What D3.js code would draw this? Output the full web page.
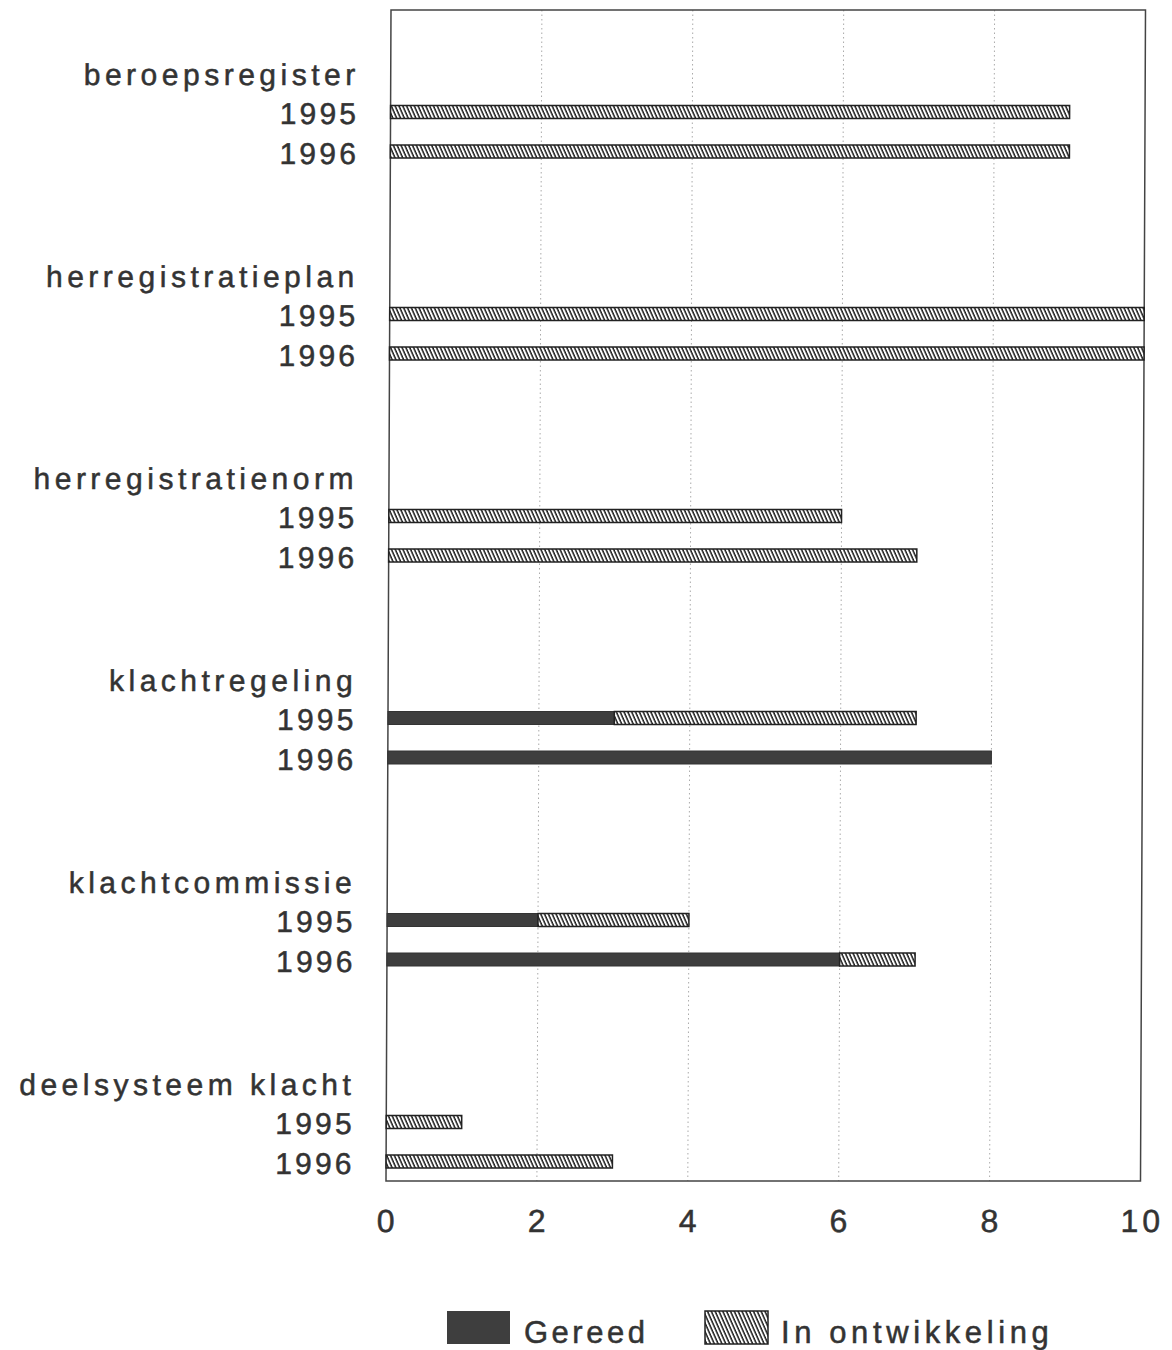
<!DOCTYPE html>
<html><head><meta charset="utf-8">
<script src="https://cdn.jsdelivr.net/npm/d3@7"></script>
<style>body{margin:0;background:#fff}svg{display:block}text{font-family:"Liberation Sans",Arial,sans-serif;fill:#333;stroke:#333;stroke-width:0.5px}</style>
</head><body>
<svg id="c" width="1172" height="1350"></svg>
<script>
const categories = ["beroepsregister","herregistratieplan","herregistratienorm","klachtregeling","klachtcommissie","deelsysteem klacht"];
const years = ["1995","1996"];
const gereed = [[0,0],[0,0],[0,0],[3,8],[2,6],[0,0]];
const inOntwikkeling = [[9,9],[10,10],[6,7],[4,0],[2,1],[1,3]];
const xTicks = [0,2,4,6,8,10];
const seriesNames = ["Gereed","In ontwikkeling"];

const svg = d3.select("#c");
const L = 388.5, R = 1143, T = 10, B = 1181;
const x = d3.scaleLinear().domain([0,10]).range([L,R]);
const yGroup = d3.scalePoint().domain(categories).range([74, 74 + 202*(categories.length-1)]);
const ySub = d3.scalePoint().domain(["label"].concat(years)).range([0, 79]);

const defs = svg.append("defs");
const pat = defs.append("pattern").attr("id","hatch").attr("patternUnits","userSpaceOnUse")
  .attr("width",3.5).attr("height",10).attr("patternTransform","rotate(-24)");
pat.append("rect").attr("width",3.5).attr("height",10).attr("fill","#fff");
pat.append("line").attr("x1",1).attr("y1",0).attr("x2",1).attr("y2",10).attr("stroke","#1a1a1a").attr("stroke-width",1.5);

// scanned image is slightly sheared: apply tiny skew about the vertical centre
const k = -5/1171;
const g0 = svg.append("g").attr("transform", `translate(${-k*595},0) skewX(${Math.atan(k)*180/Math.PI})`);

// grid
g0.append("g").selectAll("line").data(xTicks.filter(d=>d>0&&d<10)).join("line")
  .attr("x1",d=>x(d)).attr("x2",d=>x(d)).attr("y1",T).attr("y2",B)
  .attr("stroke","#aaa").attr("stroke-width",1).attr("stroke-dasharray","1.5,3");

// frame
g0.append("rect").attr("x",L).attr("y",T).attr("width",R-L).attr("height",B-T)
  .attr("fill","none").attr("stroke","#444").attr("stroke-width",1.5);

const bh = 13;
const bars = g0.append("g");
categories.forEach((c,i)=>{
  years.forEach((yr,j)=>{
    const cy = yGroup(c) + ySub(yr) - 1.5;
    const g = gereed[i][j], o = inOntwikkeling[i][j];
    if (g>0) bars.append("rect").attr("x",x(0)).attr("y",cy-bh/2).attr("width",x(g)-x(0)).attr("height",bh)
      .attr("fill","#3e3e3e").attr("stroke","#333").attr("stroke-width",1);
    if (o>0) bars.append("rect").attr("x",x(g)).attr("y",cy-bh/2).attr("width",x(g+o)-x(g)).attr("height",bh)
      .attr("fill","url(#hatch)").attr("stroke","#222").attr("stroke-width",1.5);
  });
});

// labels
const lab = g0.append("g").attr("text-anchor","end").style("font-size","30px");
const catSp = 4.5, yrSp = 3.2;
categories.forEach((c,i)=>{
  lab.append("text").attr("x",353+catSp).attr("y",yGroup(c)).attr("dy","0.36em")
    .style("letter-spacing",catSp+"px").text(c);
  years.forEach(yr=>{
    lab.append("text").attr("x",354+yrSp).attr("y",yGroup(c)+ySub(yr)).attr("dy","0.36em")
      .style("letter-spacing",yrSp+"px").text(yr);
  });
});

// x axis labels
g0.append("g").selectAll("text").data(xTicks).join("text")
  .attr("x",d=>x(d)+2).attr("y",1220).attr("dy","0.36em").attr("text-anchor","middle")
  .style("font-size","32px").style("letter-spacing","4px").text(d=>d);

// legend
const leg = svg.append("g");
leg.append("rect").attr("x",447).attr("y",1311).attr("width",63).attr("height",33).attr("fill","#3e3e3e");
leg.append("text").attr("x",524).attr("y",1343).style("font-size","31px").style("letter-spacing","3.5px").text(seriesNames[0]);
leg.append("rect").attr("x",705).attr("y",1311).attr("width",63).attr("height",33).attr("fill","url(#hatch)").attr("stroke","#222").attr("stroke-width",1.5);
leg.append("text").attr("x",781).attr("y",1343).style("font-size","31px").style("letter-spacing","4.6px").text(seriesNames[1]);
</script>
</body></html>
